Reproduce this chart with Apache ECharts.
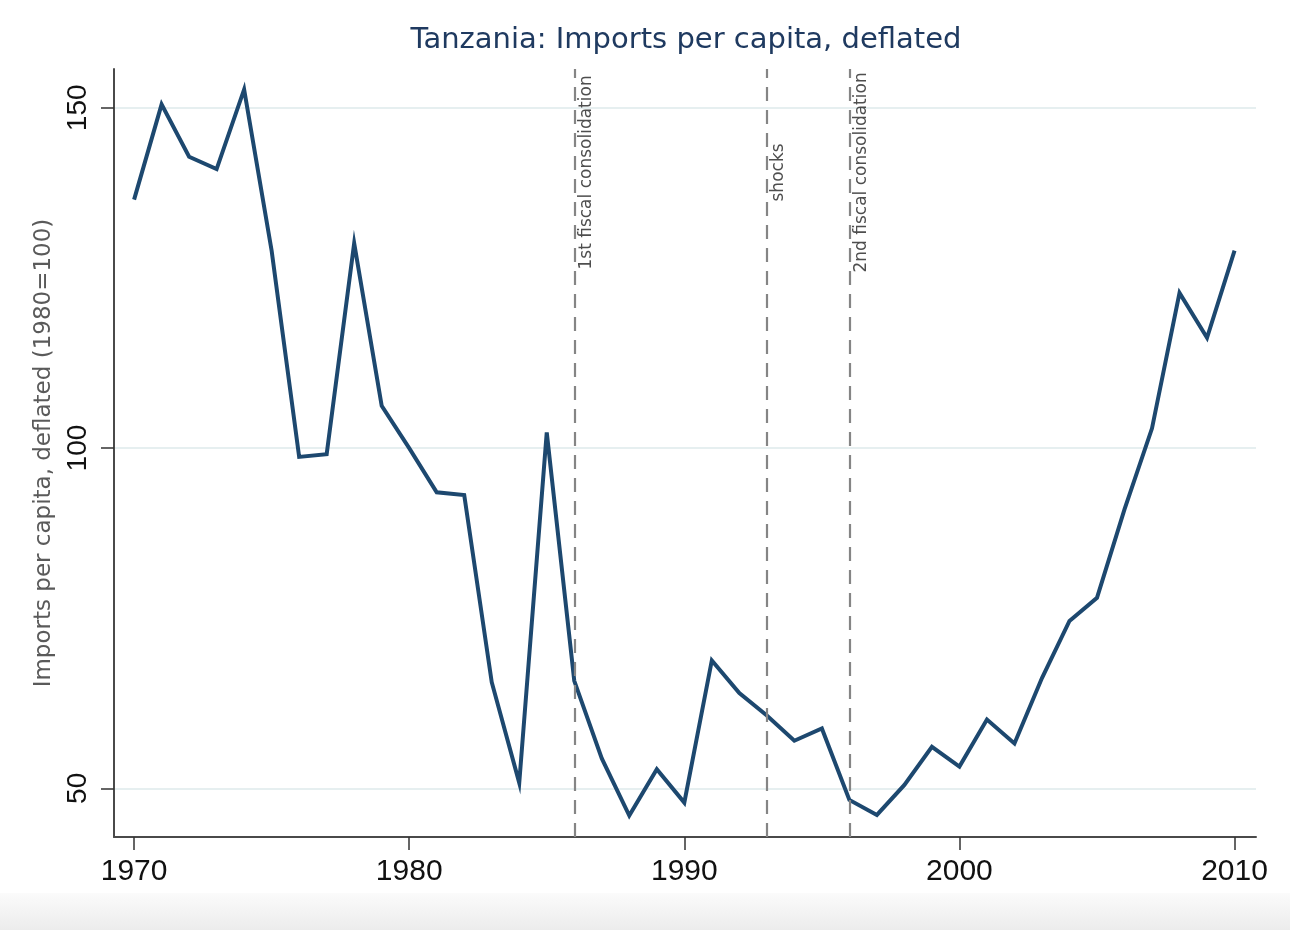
<!DOCTYPE html>
<html>
<head>
<meta charset="utf-8">
<script src="https://cdn.jsdelivr.net/npm/echarts@6/dist/echarts.min.js"></script>
<style>
html,body{margin:0;padding:0;background:#ffffff;}
#chart{width:1290px;height:930px;}
</style>
</head>
<body>
<div id="chart"></div>
<script>
// ---- data ----
const years = [1970,1971,1972,1973,1974,1975,1976,1977,1978,1979,
               1980,1981,1982,1983,1984,1985,1986,1987,1988,1989,
               1990,1991,1992,1993,1994,1995,1996,1997,1998,1999,
               2000,2001,2002,2003,2004,2005,2006,2007,2008,2009,2010];
const importsPerCapita = [136.5,150.5,142.8,141.0,152.7,129.0,98.7,99.1,130.1,106.2,
                          100.0,93.5,93.1,65.6,50.8,102.3,65.8,54.4,46.0,52.8,
                          47.9,68.8,64.0,60.7,57.0,58.8,48.3,46.1,50.5,56.1,
                          53.2,60.1,56.6,66.2,74.6,78.0,91.0,102.9,122.8,116.2,129.0];
const xTickValues = [1970,1980,1990,2000,2010];
const yTickValues = [50,100,150];
const eventYears = [1986,1993,1996];
const eventLabels = ['1st fiscal consolidation','shocks','2nd fiscal consolidation'];
const chartTitle = 'Tanzania: Imports per capita, deflated';
const yAxisTitle = 'Imports per capita, deflated (1980=100)';

// ---- chart ----
const chart = echarts.init(document.getElementById('chart'), null, {renderer:'canvas'});
const lineData = years.map((y,i)=>[y, importsPerCapita[i]]);
const labelLevel = 140.5;

const option = {
  backgroundColor:'#ffffff',
  animation:false,
  title:{
    text: chartTitle,
    left: 686, top: 26, padding: 0,
    textAlign:'center',
    textStyle:{fontFamily:'DejaVu Sans', fontSize:29, fontWeight:'normal', color:'#1f3a60'}
  },
  grid:{left:114, right:34, top:69, bottom:93, containLabel:false},
  xAxis:{
    type:'value', min:1969.27, max:2010.78,
    axisLine:{show:true, onZero:false, lineStyle:{color:'#4a4a4a', width:2}},
    axisTick:{show:true, customValues:xTickValues, length:13, lineStyle:{color:'#333', width:1.5}},
    axisLabel:{customValues:xTickValues, margin:20, fontFamily:'Liberation Sans', fontSize:30, color:'#111',
               formatter:(v)=>String(v)},
    splitLine:{show:false}
  },
  yAxis:{
    type:'value', min:42.85, max:155.7,
    name: yAxisTitle, nameLocation:'middle', nameGap:58, nameRotate:90,
    nameTextStyle:{fontFamily:'DejaVu Sans', fontSize:23, color:'#5a5a5a'},
    axisLine:{show:true, onZero:false, lineStyle:{color:'#4a4a4a', width:2}},
    axisTick:{show:true, customValues:yTickValues, length:13, lineStyle:{color:'#333', width:1.5}},
    axisLabel:{customValues:yTickValues, rotate:90, margin:22, fontFamily:'Liberation Sans', fontSize:28, color:'#111',
               formatter:(v)=>String(v)},
    splitLine:{show:true, lineStyle:{color:'#e6eff0', width:2}}
  },
  series:[
    {
      type:'line',
      data: lineData,
      showSymbol:false,
      lineStyle:{color:'#1d486f', width:4, join:'miter'},
      itemStyle:{color:'#1d486f'},
      z:3,
      markLine:{
        silent:true,
        symbol:['none','none'],
        label:{show:false},
        lineStyle:{color:'#858585', width:2.2, type:[14,9]},
        data: eventYears.map(y=>({xAxis:y}))
      }
    },
    {
      type:'scatter',
      data: eventYears.map(y=>[y, labelLevel]),
      symbolSize:0,
      silent:true,
      label:{
        show:true,
        position:[12,0],
        rotate:90,
        align:'center',
        verticalAlign:'middle',
        fontFamily:'DejaVu Sans',
        fontSize:17,
        color:'#222',
        formatter:(p)=>eventLabels[p.dataIndex]
      },
      z:4
    }
  ],
  graphic:[
    {
      type:'rect',
      left:0, top:893, z:-10,
      shape:{width:1290, height:37},
      style:{fill:new echarts.graphic.LinearGradient(0,0,0,1,[{offset:0,color:'#fbfbfb'},{offset:1,color:'#ececec'}])}
    }
  ]
};
chart.setOption(option);
</script>
</body>
</html>
